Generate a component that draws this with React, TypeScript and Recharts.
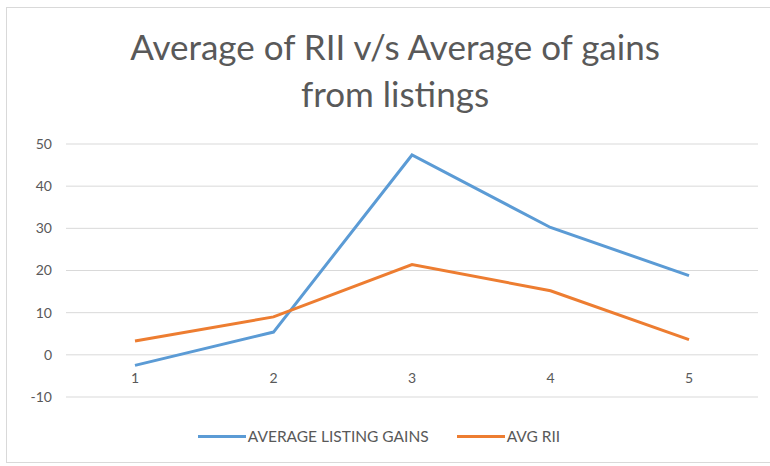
import React from 'react';
import { LineChart, Line, XAxis, YAxis, CartesianGrid, Legend } from 'recharts';

const categories = ['1', '2', '3', '4', '5'];
const listingGains = [-2.5, 5.4, 47.4, 30.2, 18.8];
const avgRii = [3.3, 9.0, 21.4, 15.2, 3.6];
const yTicks = [-10, 0, 10, 20, 30, 40, 50];

const data = categories.map((c, i) => ({
  name: c,
  gains: listingGains[i],
  rii: avgRii[i],
}));

const FONT = 'Lato, "Open Sans", sans-serif';
const TEXT = '#595959';

const CustomLegend = () => {
  const items = [
    { label: 'AVERAGE LISTING GAINS', color: '#5b9bd5' },
    { label: 'AVG RII', color: '#ed7d31' },
  ];
  return (
    <div style={{ display: 'flex', justifyContent: 'center', gap: 28, fontFamily: FONT, fontSize: 15.5, color: TEXT }}>
      {items.map(item => (
        <div key={item.label} style={{ display: 'flex', alignItems: 'center' }}>
          <span style={{ display: 'inline-block', width: 48, height: 3, background: item.color, marginRight: 2 }} />
          <span>{item.label}</span>
        </div>
      ))}
    </div>
  );
};

export default function App() {
  return (
    <div style={{ position: 'absolute', left: 0, top: 0, width: 770, height: 466, background: '#fff' }}>
      <div
        style={{
          position: 'absolute',
          left: 6,
          top: 7,
          width: 770,
          height: 454,
          border: '1px solid #d9d9d9',
        }}
      />
      <div
        style={{
          position: 'absolute',
          left: 0,
          top: 23,
          width: 790,
          textAlign: 'center',
          fontFamily: FONT,
          fontSize: 35,
          lineHeight: '47px',
          color: TEXT,
        }}
      >
        <div>Average of RII v/s Average of gains</div>
        <div>from listings</div>
      </div>
      <div style={{ position: 'absolute', left: 0, top: 0 }}>
        <LineChart width={770} height={466} data={data} margin={{ top: 144, right: 12, bottom: 0, left: 0 }}>
          <CartesianGrid vertical={false} stroke="#d9d9d9" />
          <XAxis
            dataKey="name"
            axisLine={false}
            tickLine={false}
            padding={{ left: 69, right: 69 }}
            tick={{ fill: TEXT, fontSize: 14, fontFamily: FONT, dy: -32 }}
            height={30}
          />
          <YAxis
            domain={[-10, 50]}
            ticks={yTicks}
            axisLine={false}
            tickLine={false}
            width={66}
            tick={{ fill: TEXT, fontSize: 14, fontFamily: FONT, dx: -6 }}
          />
          <Legend verticalAlign="bottom" height={39} content={<CustomLegend />} />
          <Line type="linear" dataKey="gains" stroke="#5b9bd5" strokeWidth={3} dot={false} isAnimationActive={false} />
          <Line type="linear" dataKey="rii" stroke="#ed7d31" strokeWidth={3} dot={false} isAnimationActive={false} />
        </LineChart>
      </div>
    </div>
  );
}
